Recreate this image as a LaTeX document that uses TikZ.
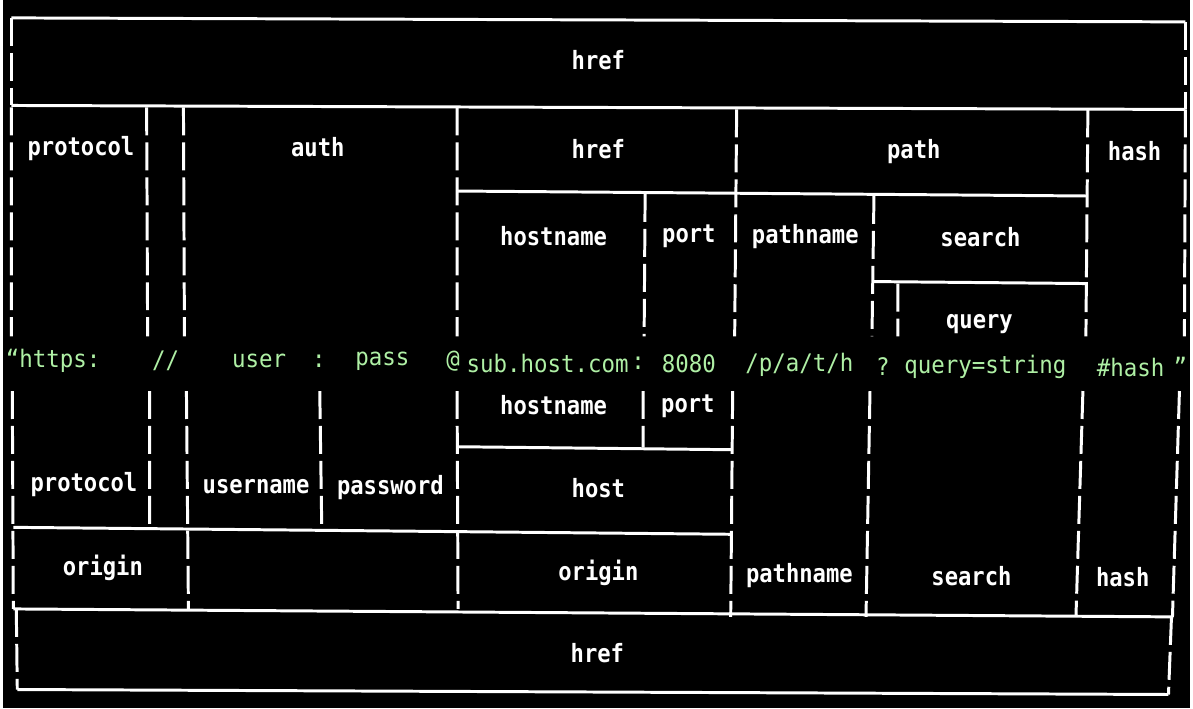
\documentclass[tikz,border=0pt]{standalone}
\usepackage{fontspec}
\setmonofont{DejaVu Sans Mono}
\newfontfamily\lblfont{DejaVu Sans Mono}[FakeStretch=0.88]
\newfontfamily\urlfont{DejaVu Sans Mono}[FakeStretch=0.93]
\definecolor{urlgreen}{RGB}{175,240,165}
\begin{document}
\begin{tikzpicture}[x=0.02cm,y=-0.02cm,
  lbl/.style={text=white,font=\lblfont\bfseries\fontsize{14.4}{16}\selectfont},
  url/.style={text=urlgreen,font=\urlfont\fontsize{13.8}{15}\selectfont},
  hl/.style={draw=white,line width=1.7pt},
  vl/.style={draw=white,line width=1.7pt,dash pattern=on 16pt off 4pt}]
\fill[black] (0,0) rectangle (1193,712);

\draw[hl] (8,18)--(1188,22) (8,106)--(1188,110);
\draw[vl] (8,18)--(8,106) (1188,22)--(1188,110);
\node[lbl] (hrefTop) at (598,60) {href};

\draw[hl] (456,192)--(1090,197) (875,283)--(1090,285);
\draw[vl] (8,108)--(8,338) (144,108)--(145,338) (181,108)--(182,338)
  (456,108)--(456,338) (737,110)--(735,338) (1090,110)--(1088,338)
  (1188,110)--(1187,338) (645,195)--(644,338) (875,197)--(873,338)
  (899,285)--(899,338);
\node[lbl] (protoUp) at (78,149) {protocol};
\node[lbl] (auth) at (316,148) {auth};
\node[lbl] (hrefUp) at (598,150) {href};
\node[lbl] (path) at (915,152) {path};
\node[lbl] (hashUp) at (1137,152) {hash};
\node[lbl] (hostnameUp) at (553,237) {hostname};
\node[lbl] (portUp) at (689,237) {port};
\node[lbl] (pathnameUp) at (806,238) {pathname};
\node[lbl] (searchUp) at (982,238) {search};
\node[lbl] (query) at (981,326) {query};

\node[url] (uA) at (50,363) {“https:};
\node[url] (uB) at (163,363) {//};
\node[url] (uC) at (257,363) {user};
\node[url] (uD) at (317,363) {:};
\node[url] (uE) at (381,363) {pass};
\node[url] (uF) at (452,363) {@};
\node[url] (uG) at (547,365) {sub.host.com};
\node[url] (uH) at (638,365) {:};
\node[url] (uI) at (689,366) {8080};
\node[url] (uJ) at (800,367) {/p/a/t/h};
\node[url] (uK) at (884,368) {?};
\node[url] (uL) at (987,369) {query=string};
\node[url] (uM) at (1133,369) {\#hash};
\node[url] (uN) at (1183,368) {”};

\draw[hl] (457,449)--(733,452) (10,530)--(733,537) (10,612)--(1176,620)
  (14,693)--(1171,698);
\draw[vl] (9,393)--(10,612) (13,612)--(14,693) (147,393)--(147,530)
  (184,393)--(186,612) (318,393)--(320,530) (456,393)--(457,612)
  (643,393)--(643,450) (733,393)--(731,620) (871,393)--(867,620)
  (1085,393)--(1078,620) (1182,393)--(1175,620) (1174,620)--(1171,698);
\node[lbl] (hostnameLo) at (553,407) {hostname};
\node[lbl] (portLo) at (688,408) {port};
\node[lbl] (protoLo) at (81,487) {protocol};
\node[lbl] (username) at (254,489) {username};
\node[lbl] (password) at (389,490) {password};
\node[lbl] (host) at (598,491) {host};
\node[lbl] (originA) at (100,571) {origin};
\node[lbl] (originB) at (598,576) {origin};
\node[lbl] (pathnameLo) at (800,578) {pathname};
\node[lbl] (searchLo) at (973,579) {search};
\node[lbl] (hashLo) at (1125,580) {hash};
\node[lbl] (hrefLo) at (597,656) {href};
\end{tikzpicture}
\end{document}
